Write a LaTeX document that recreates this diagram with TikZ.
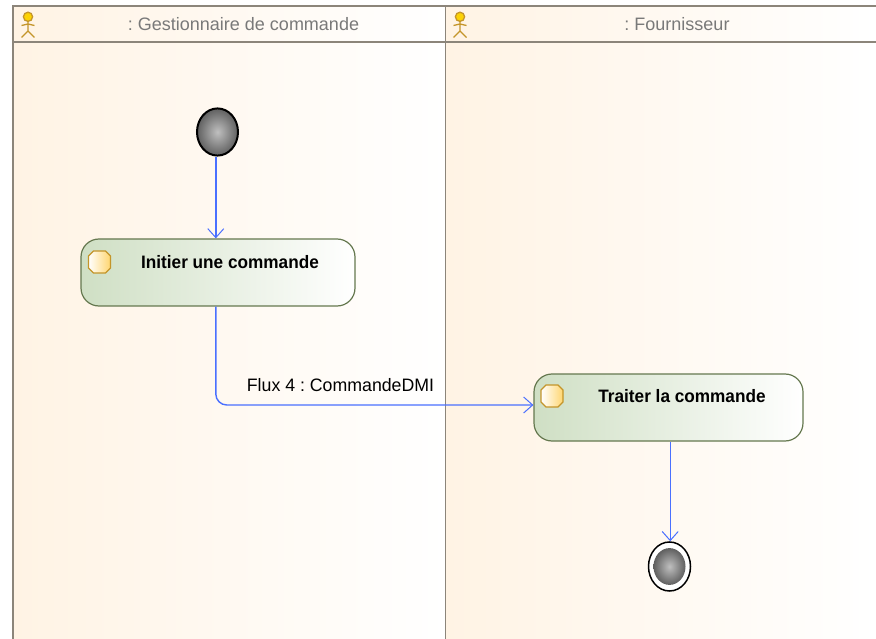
\documentclass[tikz,border=0pt]{standalone}
\usepackage{fontspec}
\setmainfont{Liberation Sans}
\usetikzlibrary{shapes.geometric,arrows.meta}
\frenchspacing
\definecolor{lanefond}{HTML}{FFF3E4}
\definecolor{lanetrait}{HTML}{8C857A}
\definecolor{actiontrait}{HTML}{65784F}
\definecolor{actionfond}{HTML}{CFDFC4}
\definecolor{fleche}{HTML}{4A70FF}
\definecolor{acteur}{HTML}{C4952A}
\definecolor{pastillefond}{HTML}{FFD670}
\tikzset{
  couloir/.style={shade,left color=lanefond,right color=white,shading angle=90,draw=none},
  titre/.style={text=gray!95!black,font=\fontsize{18}{18}\selectfont,xscale=1.0,inner sep=0pt},
  action/.style={draw=actiontrait,line width=1.2pt,rounded corners=18pt,left color=actionfond,right color=white,minimum width=#1,minimum height=67pt,inner sep=0pt},
  nomaction/.style={font=\bfseries\fontsize{18}{18}\selectfont,xscale=0.955,inner sep=0pt},
  debut/.style={ellipse,draw=black,line width=2pt,inner color=gray!50,outer color=gray!75!black,minimum width=#1,minimum height=#1*1.15,inner sep=0pt},
  fin/.style={ellipse,draw=black,line width=1.5pt,fill=white,minimum width=42pt,minimum height=49pt,inner sep=0pt},
  flux/.style={draw=fleche,line width=1.4pt,-{Straight Barb[length=9pt,width=16pt,line width=1pt]}},
}
\newcommand{\acteurfig}[1]{%
  \draw [acteur,line width=1.3pt,fill=yellow!70!orange] (#1,16.8) circle (4.6) ;
  \draw [acteur,line width=1.3pt] (#1,21.4) -- (#1,31) (#1-6.5,25.5) -- (#1,24) -- (#1+6.5,25.5) (#1-6.5,37.5) -- (#1,31) -- (#1+6.5,37.5) ;
}
\newcommand{\pastille}[2]{%
  \draw [acteur,line width=1.3pt,left color=white,right color=pastillefond] (#1+5,#2) -- (#1+17,#2) -- (#1+22,#2+5) -- (#1+22,#2+17) -- (#1+17,#2+22) -- (#1+5,#2+22) -- (#1,#2+17) -- (#1,#2+5) -- cycle ;
}
\begin{document}
\begin{tikzpicture}[x=1pt,y=-1pt]
  \useasboundingbox [fill=white] (0,0) rectangle (876,639) ;
  % les deux couloirs
  \path [couloir] (13,6) rectangle (445.8,639) ;
  \path [couloir] (445.8,6) rectangle (876,639) ;
  \draw [lanetrait,line width=1.3pt] (876,6) -- (13,6) -- (13,639) ;
  \draw [lanetrait,line width=1.3pt] (445.8,6) -- (445.8,300) -- (445.8,639) ;
  \draw [lanetrait,line width=1.3pt] (13,42) -- (876,42) ;
  \acteurfig{28}
  \acteurfig{460}
  \draw (243.5,24) node [titre] (titregest) {: Gestionnaire de commande} ;
  \draw (677,24) node [titre] (titrefour) {: Fournisseur} ;
  % les noeuds
  \draw (217.5,132) node [debut=41pt] (depart) {} ;
  \draw (218,272.5) node [action=274pt] (initier) {} ;
  \draw (668.5,407.5) node [action=269pt] (traiter) {} ;
  \draw (669.5,566.5) node [fin] (arrivee) {} ;
  \draw (669.5,566.5) node [debut=32pt,draw=none] (arriveefond) {} ;
  \pastille{88.5}{251}
  \pastille{541}{385}
  \draw (230,262) node [nomaction] (nominitier) {Initier une commande} ;
  \draw (682,396) node [nomaction] (nomtraiter) {Traiter la commande} ;
  % les fleches
  \draw [flux] (depart.south -| 215.8,0) -- (215.8,200) -- (initier.north -| 215.8,0) ;
  \draw [flux,rounded corners=11pt] (initier.south -| 215.8,0) -- (215.8,405) -- (traiter.west |- 0,405) ;
  \draw [flux] (traiter.south -| 670.2,0) -- (670.2,500) -- (arrivee.north -| 670.2,0) ;
  \draw (340.5,385) node [titre,text=black,xscale=0.985] (nomflux) {Flux 4 : CommandeDMI} ;
\end{tikzpicture}
\end{document}
